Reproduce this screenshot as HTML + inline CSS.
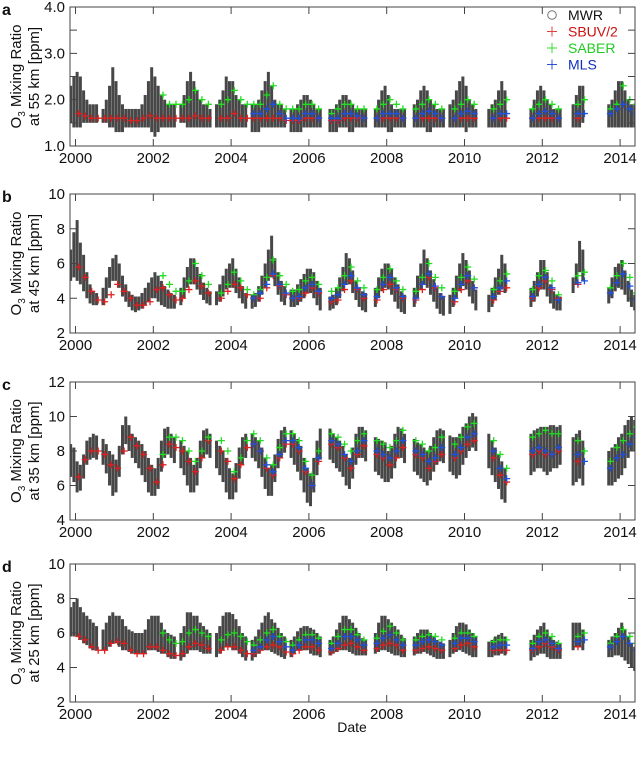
<!DOCTYPE html>
<html><head><meta charset="utf-8"><style>
html,body{margin:0;padding:0;background:#fff;}
svg{display:block;font-family:"Liberation Sans",Arial,sans-serif;}
</style></head><body>
<svg id="chart" width="638" height="760" viewBox="0 0 638 760"></svg>
<script>
// ---------- DATA ----------
// MWR monthly ranges: t = 1999.875 + i/12, i = 0..174
const N = null;
const mwrHiA=[2.3,2.5,
2.6,2.5,2.2,2.0,1.9,1.9,1.9,N,1.8,2.0,2.3,2.7,
2.4,2.1,1.9,1.8,1.8,1.8,1.8,1.8,1.9,2.1,2.4,2.7,
2.5,2.3,2.1,2.0,1.9,1.9,1.9,N,1.9,2.1,2.4,2.6,
2.4,2.2,2.0,1.9,1.9,1.8,N,1.9,2.0,2.2,2.5,2.4,
2.4,2.1,2.0,1.9,1.9,N,1.9,1.9,2.0,2.2,2.4,2.6,
2.3,2.0,1.9,1.9,1.8,N,1.8,1.8,1.9,2.0,2.1,2.1,
2.0,1.9,1.8,1.8,N,N,1.8,1.8,1.9,2.0,2.1,2.1,
2.0,1.9,1.8,1.8,1.8,1.8,N,N,1.8,2.0,2.2,2.3,
2.1,1.9,1.8,1.8,1.8,1.8,N,N,1.9,2.0,2.2,2.3,
2.2,2.0,1.9,1.8,1.8,1.8,N,1.9,2.0,2.2,2.4,2.5,
2.3,2.0,1.9,1.8,N,N,N,1.8,1.9,2.0,2.2,2.4,
2.2,N,N,N,N,N,N,N,1.8,2.0,2.2,2.3,
2.2,2.0,1.9,1.8,1.8,1.8,N,N,N,1.9,2.1,2.3,
2.3,N,N,N,N,N,N,N,1.9,2.0,2.2,2.4,
2.4,2.2,2.0,1.9,1.9];
const mwrLoA=[1.5,1.4,
1.4,1.4,1.5,1.5,1.5,1.5,1.5,N,1.5,1.5,1.4,1.4,
1.3,1.3,1.3,1.4,1.4,1.4,1.4,1.4,1.4,1.4,1.4,1.3,
1.2,1.3,1.4,1.4,1.4,1.4,1.4,N,1.5,1.5,1.4,1.4,
1.4,1.4,1.4,1.4,1.4,1.4,N,1.4,1.4,1.4,1.4,1.4,
1.4,1.4,1.4,1.4,1.4,N,1.3,1.3,1.3,1.4,1.4,1.4,
1.4,1.4,1.4,1.4,1.4,N,1.3,1.3,1.3,1.3,1.4,1.4,
1.4,1.4,1.4,1.4,N,N,1.3,1.3,1.3,1.4,1.4,1.4,
1.3,1.3,1.4,1.4,1.4,1.4,N,N,1.4,1.4,1.4,1.4,
1.3,1.3,1.4,1.4,1.4,1.4,N,N,1.4,1.4,1.4,1.4,
1.3,1.3,1.4,1.4,1.4,1.4,N,1.4,1.4,1.4,1.4,1.4,
1.3,1.4,1.4,1.4,N,N,N,1.4,1.4,1.4,1.4,1.4,
1.4,N,N,N,N,N,N,N,1.4,1.4,1.4,1.4,
1.4,1.4,1.4,1.4,1.4,1.4,N,N,N,1.4,1.4,1.4,
1.5,N,N,N,N,N,N,N,1.4,1.4,1.4,1.4,
1.4,1.4,1.4,1.4,1.4];
const mwrHiB=[6.8,7.8,
8.5,7.2,6.5,5.5,4.8,4.4,4.3,N,4.6,5.2,5.8,6.3,
6.5,6.0,5.3,4.8,4.4,4.2,4.1,4.1,4.3,4.6,4.9,5.2,
5.5,5.3,5.0,4.7,4.5,4.3,4.2,N,4.6,5.2,5.8,6.3,
6.3,5.8,5.4,4.9,4.6,4.4,N,4.4,4.8,5.3,5.7,6.0,
6.3,5.7,5.2,4.7,4.3,N,4.2,4.3,4.7,5.3,6.0,6.8,
7.6,6.3,5.5,5.0,4.7,N,4.5,4.5,4.8,5.1,5.4,5.7,
5.7,5.5,5.0,4.6,N,N,4.1,4.2,4.6,5.2,5.8,6.6,
6.3,5.6,5.0,4.6,4.4,4.3,N,N,4.6,5.2,5.7,6.0,
6.0,5.7,5.2,4.8,4.4,4.2,N,N,4.6,5.3,6.0,6.8,
6.3,5.6,5.1,4.6,4.3,4.1,N,4.2,4.6,5.3,6.0,6.6,
6.2,5.6,5.0,4.5,N,N,N,4.2,4.6,5.2,5.7,6.5,
6.0,N,N,N,N,N,N,N,4.6,5.0,5.5,6.2,
6.2,5.5,4.8,4.4,4.2,4.1,N,N,N,5.2,6.0,7.3,
6.8,N,N,N,N,N,N,N,4.6,5.2,5.8,6.0,
6.2,5.6,5.0,4.5,4.2];
const mwrLoB=[5.0,5.2,
5.0,4.8,4.4,4.0,3.7,3.6,3.6,N,3.6,4.0,4.6,5.0,
5.0,4.6,4.1,3.8,3.5,3.3,3.2,3.3,3.4,3.6,3.8,4.0,
4.0,3.8,3.6,3.5,3.4,3.4,3.4,N,3.6,4.0,4.6,4.8,
4.8,4.5,4.2,3.9,3.7,3.6,N,3.6,3.8,4.1,4.5,4.6,
4.6,4.3,4.0,3.7,3.4,N,3.4,3.5,3.8,4.2,4.6,5.0,
5.2,4.7,4.2,3.8,3.6,N,3.5,3.5,3.6,3.8,4.0,4.3,
4.3,4.0,3.6,3.3,N,N,3.3,3.4,3.6,4.0,4.4,4.8,
4.8,4.3,3.9,3.5,3.3,3.2,N,N,3.5,4.0,4.4,4.6,
4.5,4.2,3.8,3.4,3.2,3.1,N,N,3.5,4.0,4.5,4.8,
4.6,4.2,3.8,3.4,3.1,3.0,N,3.1,3.5,4.0,4.4,4.7,
4.5,4.1,3.7,3.3,N,N,N,3.2,3.5,3.9,4.2,4.5,
4.3,N,N,N,N,N,N,N,3.5,3.8,4.1,4.5,
4.5,4.1,3.7,3.4,3.3,3.3,N,N,N,4.3,4.8,5.5,
5.0,N,N,N,N,N,N,N,3.7,4.0,4.4,4.6,
4.5,4.2,3.8,3.5,3.3];
const mwrHiC=[8.4,8.2,
7.4,7.2,7.8,8.6,8.8,9.0,8.9,N,8.7,8.4,8.0,7.8,
7.5,8.3,9.5,10.0,9.5,9.0,8.8,8.6,8.4,8.0,7.6,7.2,
7.0,7.6,8.6,9.3,9.4,9.0,8.8,N,8.6,8.3,8.0,7.6,
7.2,7.6,8.6,9.2,9.3,9.0,N,8.6,8.3,8.0,7.6,7.0,
6.7,7.3,8.2,8.8,9.0,N,9.0,8.8,8.6,8.2,7.6,7.0,
7.2,7.8,8.7,9.2,9.4,N,9.2,9.0,8.7,8.3,7.6,7.0,
6.7,7.6,8.6,9.3,N,N,9.3,9.0,8.8,8.6,8.3,7.8,
7.6,8.2,9.0,9.4,9.4,9.2,N,N,8.8,8.7,8.6,8.5,
8.0,8.3,9.0,9.4,9.3,9.0,N,N,8.7,8.5,8.4,8.2,
8.0,8.3,8.8,9.2,9.3,9.2,N,8.9,8.8,8.8,9.0,9.4,
9.6,10.0,10.2,10.0,N,N,N,9.0,8.6,8.2,7.8,7.4,
7.0,N,N,N,N,N,N,N,9.0,9.2,9.3,9.4,
9.4,9.4,9.5,9.5,9.4,9.5,N,N,N,8.8,9.0,9.2,
8.6,N,N,N,N,N,N,N,8.0,8.2,8.4,8.8,
9.0,9.5,9.8,10.0,9.8];
const mwrLoC=[6.5,6.2,
5.6,5.7,6.4,7.2,7.5,7.6,7.5,N,7.2,6.7,6.0,5.4,
5.6,6.5,7.8,8.4,8.0,7.6,7.3,7.0,6.6,6.2,5.6,5.4,
5.4,5.8,6.8,7.6,7.8,7.6,7.3,N,7.0,6.6,6.0,5.6,
5.6,6.0,7.0,7.6,7.8,7.6,N,7.0,6.6,6.2,5.6,5.2,
5.2,5.6,6.4,7.2,7.6,N,7.6,7.4,7.0,6.5,5.8,5.4,
5.4,6.2,7.0,7.6,7.9,N,7.6,7.2,6.8,6.3,5.6,5.0,
4.8,5.6,6.6,7.5,N,N,7.5,7.3,7.0,6.8,6.5,6.0,
5.8,6.4,7.2,7.6,7.6,7.4,N,N,6.8,6.6,6.4,6.2,
6.2,6.4,7.0,7.6,7.6,7.3,N,N,6.8,6.6,6.4,6.2,
6.0,6.3,6.8,7.2,7.4,7.3,N,6.8,6.6,6.4,6.6,7.2,
7.6,8.0,8.2,8.0,N,N,N,7.0,6.6,6.2,5.8,5.2,
5.0,N,N,N,N,N,N,N,6.6,6.8,7.0,7.0,
6.8,6.6,6.8,7.0,7.0,7.2,N,N,N,6.0,6.2,6.4,
6.0,N,N,N,N,N,N,N,6.0,6.0,6.2,6.4,
6.6,7.0,7.6,8.0,8.0];
const mwrHiD=[7.5,7.8,
8.0,7.5,7.2,7.0,6.8,6.6,6.4,N,6.2,6.6,7.0,7.2,
7.0,7.0,6.8,6.4,6.2,6.1,6.0,6.0,6.0,6.2,6.8,7.0,
7.0,7.0,6.6,6.2,6.0,5.9,5.8,N,6.0,6.4,7.2,7.2,
7.0,7.0,6.6,6.4,6.2,6.0,N,6.0,6.4,7.0,7.2,7.2,
7.1,6.8,6.4,6.0,5.8,N,5.6,5.8,6.2,6.6,7.0,7.2,
6.8,6.6,6.3,6.0,5.8,N,5.6,5.8,6.1,6.3,6.4,6.4,
6.3,6.2,6.0,5.8,N,N,5.6,5.8,6.2,6.6,7.0,7.0,
6.8,6.6,6.3,6.0,5.7,5.6,N,N,6.0,6.6,7.0,7.0,
6.8,6.6,6.4,6.2,5.9,5.7,N,N,5.8,6.0,6.2,6.2,
6.2,6.0,5.8,5.6,5.5,5.4,N,5.6,6.0,6.4,6.6,6.6,
6.5,6.2,6.0,5.8,N,N,N,5.5,5.6,5.8,5.9,6.0,
5.8,N,N,N,N,N,N,N,5.6,5.9,6.2,6.4,
6.6,6.2,5.8,5.6,5.5,5.4,N,N,N,6.6,6.6,6.6,
6.2,N,N,N,N,N,N,N,5.6,5.8,6.0,6.3,
6.6,6.2,5.8,5.4,5.2];
const mwrLoD=[5.8,5.8,
5.8,5.6,5.4,5.3,5.1,5.0,5.0,N,5.0,5.0,5.2,5.4,
5.4,5.2,5.0,5.0,4.9,4.8,4.8,4.8,4.8,4.8,5.0,5.0,
5.0,4.9,4.8,4.8,4.6,4.5,4.5,N,4.4,4.6,4.8,5.0,
5.0,5.0,4.9,4.8,4.8,4.8,N,4.6,4.8,5.0,5.2,5.2,
5.0,5.0,4.8,4.6,4.4,N,4.4,4.6,4.8,5.0,5.0,5.0,
4.9,4.8,4.7,4.6,4.5,N,4.6,4.8,5.0,5.0,5.0,5.0,
4.8,4.7,4.7,4.6,N,N,4.7,4.8,4.9,5.0,5.0,5.0,
4.9,4.8,4.7,4.7,4.7,4.7,N,N,4.8,4.9,5.0,5.0,
4.9,4.8,4.7,4.7,4.6,4.6,N,N,4.7,4.8,4.8,4.9,
4.8,4.7,4.6,4.5,4.5,4.5,N,4.6,4.8,4.9,5.0,4.9,
4.8,4.7,4.6,4.6,N,N,N,4.6,4.6,4.7,4.7,4.8,
4.7,N,N,N,N,N,N,N,4.4,4.6,4.7,4.8,
4.8,4.6,4.5,4.5,4.5,4.5,N,N,N,5.0,5.2,5.2,
5.0,N,N,N,N,N,N,N,4.6,4.6,4.7,4.7,
4.6,4.4,4.2,4.0,3.8];

// Satellites bimonthly: t = 2000 + 1/12 + k/6 (Jan,Mar,May,Jul,Sep,Nov), k = 0..86
const sbuvA=[1.7,1.65,1.6,1.6,1.6,1.6, 1.6,1.6,1.55,1.55,1.6,1.65, 1.6,1.6,1.6,1.6,1.6,1.6, 1.65,1.6,1.6,N,1.6,1.6, 1.7,1.6,1.6,1.6,1.6,1.6, 1.6,1.6,1.55,1.55,1.55,1.6, 1.6,1.6,N,1.55,1.55,1.6, 1.6,1.6,1.6,N,1.6,1.6, 1.6,1.6,1.6,N,1.6,1.6, 1.6,1.6,1.6,N,1.6,1.6, 1.6,1.6,N,N,1.6,1.6, 1.6,N,N,N,1.6,1.6, 1.6,1.6,1.6,N,N,1.6, N,N,N,N,N,N, N,N,N];
const saberA=[N,N,N,N,N,N, N,N,N,N,N,N, N,2.1,1.9,1.9,1.9,2.0, 2.2,2.0,1.9,N,1.9,2.0, 2.2,2.0,1.9,1.9,1.9,2.1, 2.3,1.9,1.8,1.8,1.8,1.9, 1.9,1.8,N,1.7,1.8,1.9, 1.9,1.8,1.8,N,1.8,1.9, 2.0,1.9,1.8,N,1.8,1.9, 2.0,1.9,1.8,N,1.8,1.9, 2.0,1.9,N,N,1.8,1.9, 2.0,N,N,N,1.8,1.9, 2.0,1.9,1.8,N,N,1.9, 2.0,N,N,N,1.8,1.9, 2.3,2.0,1.9];
const mlsA=[N,N,N,N,N,N, N,N,N,N,N,N, N,N,N,N,N,N, N,N,N,N,N,N, N,N,N,1.7,1.7,1.8, 1.9,1.7,1.6,1.6,1.6,1.7, 1.7,1.6,N,1.6,1.6,1.7, 1.7,1.65,1.6,N,1.6,1.7, 1.7,1.7,1.6,N,1.6,1.7, 1.75,1.7,1.6,N,1.6,1.7, 1.75,1.7,N,N,1.6,1.7, 1.7,N,N,N,1.6,1.7, 1.75,1.7,1.6,N,N,1.7, 1.7,N,N,N,1.7,1.8, 1.9,1.8,1.7];
const sbuvB=[5.8,5.2,4.4,3.9,3.8,4.2, 4.8,4.4,4.0,3.6,3.6,3.8, 4.5,4.6,4.2,3.9,4.0,4.5, 5.0,4.7,4.3,N,4.0,4.4, 4.8,4.6,4.2,4.0,4.0,4.6, 5.3,4.7,4.2,4.0,4.0,4.3, 4.6,4.3,N,3.8,3.9,4.5, 5.0,4.5,4.0,N,3.9,4.5, 4.8,4.5,4.0,N,3.9,4.5, 5.2,4.6,4.1,N,3.8,4.5, 5.0,4.6,N,N,3.9,4.4, 4.6,N,N,N,4.0,4.6, 5.0,4.5,4.0,N,N,4.8, N,N,N,N,N,N, N,N,N];
const saberB=[N,N,N,N,N,N, N,N,N,N,N,N, N,5.3,4.8,4.4,4.4,5.0, 6.0,5.3,4.8,N,4.3,4.8, 5.5,5.0,4.5,4.2,4.5,5.2, 6.2,5.3,4.8,4.4,4.5,5.0, 5.2,4.8,N,4.4,4.6,5.3, 5.8,5.0,4.6,N,4.5,5.2, 5.7,5.0,4.5,N,4.4,5.2, 6.0,5.2,4.6,N,4.4,5.2, 5.8,5.1,N,N,4.5,5.0, 5.4,N,N,N,4.5,5.3, 5.6,5.0,4.2,N,N,5.3, 5.5,N,N,N,4.6,5.3, 6.0,5.2,4.3];
const mlsB=[N,N,N,N,N,N, N,N,N,N,N,N, N,N,N,N,N,N, N,N,N,N,N,N, N,N,N,4.0,4.3,4.8, 5.4,4.8,4.3,4.0,4.1,4.6, 4.8,4.4,N,4.0,4.2,4.8, 5.3,4.6,4.2,N,4.1,4.8, 5.2,4.6,4.1,N,4.0,4.8, 5.4,4.7,4.1,N,4.0,4.8, 5.3,4.6,N,N,4.1,4.6, 5.0,N,N,N,4.1,4.8, 5.2,4.6,3.9,N,N,4.9, 5.0,N,N,N,4.3,4.9, 5.4,4.7,3.9];
const sbuvC=[6.5,7.5,8.0,8.0,7.8,7.2, 7.0,8.0,8.8,8.3,7.8,7.0, 6.2,7.2,8.4,8.2,8.0,7.4, 6.8,7.6,8.6,N,8.0,7.4, 6.4,7.2,8.2,8.4,8.0,7.0, 6.6,7.6,8.4,8.4,8.0,6.8, 6.0,7.4,N,8.4,8.2,7.6, 7.0,7.8,8.3,N,7.8,7.6, 7.2,7.6,8.2,N,7.8,7.6, 7.0,7.4,7.8,N,7.6,8.0, 8.4,8.6,N,N,7.6,6.6, 6.2,N,N,N,7.8,8.0, 7.8,7.8,8.0,N,N,7.4, N,N,N,N,N,N, N,N,N];
const saberC=[N,N,N,N,N,N, N,N,N,N,N,N, N,7.8,8.8,8.8,8.6,8.0, 7.4,8.0,8.8,N,8.6,8.0, 6.8,7.6,8.6,9.0,8.6,7.6, 7.2,8.2,9.0,9.0,8.6,7.4, 6.6,8.0,N,9.0,8.8,8.4, 8.0,8.6,9.0,N,8.6,8.4, 8.2,8.6,9.2,N,8.6,8.4, 8.0,8.2,8.8,N,8.4,8.8, 9.4,9.6,N,N,8.6,7.8, 7.0,N,N,N,8.8,9.0, 9.2,9.0,9.0,N,N,8.6, 8.0,N,N,N,7.4,8.2, 8.6,9.0,9.4];
const mlsC=[N,N,N,N,N,N, N,N,N,N,N,N, N,N,N,N,N,N, N,N,N,N,N,N, N,N,N,8.4,8.0,7.2, 6.8,7.8,8.6,8.6,8.2,7.0, 6.0,7.6,N,8.6,8.4,7.8, 7.4,8.0,8.6,N,8.0,7.8, 7.6,8.0,8.6,N,8.0,7.8, 7.4,7.6,8.2,N,7.8,8.2, 8.8,9.0,N,N,8.0,7.0, 6.4,N,N,N,8.0,8.2, 8.0,7.8,8.2,N,N,7.8, 7.4,N,N,N,7.0,7.6, 7.8,8.4,8.8];
const sbuvD=[5.8,5.6,5.2,5.0,5.0,5.4, 5.5,5.4,5.0,4.8,4.8,5.2, 5.2,5.0,4.8,4.7,4.8,5.2, 5.4,5.3,5.1,N,5.0,5.2, 5.2,5.0,4.8,4.8,5.0,5.2, 5.3,5.2,4.9,4.8,5.0,5.2, 5.2,5.0,N,4.9,5.1,5.3, 5.4,5.2,5.0,N,5.1,5.3, 5.4,5.3,5.0,N,5.0,5.1, 5.2,5.1,5.0,N,5.1,5.3, 5.4,5.2,N,N,5.0,5.0, 5.0,N,N,N,5.0,5.2, 5.4,5.2,5.0,N,N,5.2, N,N,N,N,N,N, N,N,N];
const saberD=[N,N,N,N,N,N, N,N,N,N,N,N, N,6.0,5.6,5.4,5.5,6.0, 6.2,6.0,5.8,N,5.6,5.9, 6.0,5.8,5.5,5.3,5.6,6.0, 6.2,5.8,5.5,5.3,5.6,5.9, 5.9,5.7,N,5.4,5.8,6.2, 6.2,5.9,5.6,N,5.7,6.1, 6.4,6.0,5.6,N,5.6,5.8, 5.9,5.8,5.6,N,5.7,6.0, 6.0,5.8,N,N,5.5,5.6, 5.6,N,N,N,5.4,5.8, 6.0,5.8,5.4,N,N,5.8, 6.0,N,N,N,5.4,5.8, 6.2,5.8,5.4];
const mlsD=[N,N,N,N,N,N, N,N,N,N,N,N, N,N,N,N,N,N, N,N,N,N,N,N, N,N,N,5.0,5.2,5.6, 5.8,5.5,5.2,5.0,5.3,5.6, 5.6,5.4,N,5.1,5.4,5.8, 5.8,5.6,5.3,N,5.4,5.7, 5.9,5.6,5.3,N,5.3,5.5, 5.6,5.5,5.3,N,5.4,5.7, 5.7,5.5,N,N,5.2,5.3, 5.3,N,N,N,5.1,5.5, 5.6,5.4,5.1,N,N,5.5, 5.6,N,N,N,5.2,5.5, 5.8,5.4,5.0];

const yearTicks=[2000,2002,2004,2006,2008,2010,2012,2014];
const ticksA=[1.0,2.0,3.0,4.0], labelsA=["1.0","2.0","3.0","4.0"];
const minorA=[1.5,2.5,3.5];
const ticksB=[2,4,6,8,10], ticksC=[4,6,8,10,12], ticksD=[2,4,6,8,10];

// ---------- LAYOUT ----------
const svg=document.getElementById('chart');
const NS='http://www.w3.org/2000/svg';
const X0=70, X1=635;
const xs=t=>75.5+(t-2000)*38.9;
function mk(tag,attrs,parent){const e=document.createElementNS(NS,tag);for(const k in attrs)e.setAttribute(k,attrs[k]);(parent||svg).appendChild(e);return e;}

const panels=[
 {id:'a',top:7,bot:146,min:1,max:4,ticks:ticksA,labels:labelsA,minor:minorA,alt:'55',hi:mwrHiA,lo:mwrLoA,s:sbuvA,g:saberA,m:mlsA},
 {id:'b',top:194,bot:333,min:2,max:10,ticks:ticksB,labels:ticksB.map(String),minor:[],alt:'45',hi:mwrHiB,lo:mwrLoB,s:sbuvB,g:saberB,m:mlsB},
 {id:'c',top:382,bot:520,min:4,max:12,ticks:ticksC,labels:ticksC.map(String),minor:[],alt:'35',hi:mwrHiC,lo:mwrLoC,s:sbuvC,g:saberC,m:mlsC},
 {id:'d',top:564,bot:702,min:2,max:10,ticks:ticksD,labels:ticksD.map(String),minor:[],alt:'25',hi:mwrHiD,lo:mwrLoD,s:sbuvD,g:saberD,m:mlsD}
];

panels.forEach(p=>{
  const ys=v=>p.bot-(v-p.min)/(p.max-p.min)*(p.bot-p.top);
  const g=mk('g',{});
  
  
  const clip=mk('clipPath',{id:'clip'+p.id},g);
  mk('rect',{x:X0,y:p.top,width:X1-X0,height:p.bot-p.top},clip);
  const plot=mk('g',{'clip-path':'url(#clip'+p.id+')'},g);
  const mw=mk('g',{fill:'#333','fill-opacity':0.9},plot);
  
  
  p.hi.forEach((h,i)=>{
    const l=p.lo[i]; if(h==null||l==null) return;
    const t=1999.875+i/12;
    const r=mk('rect',{x:xs(t)-1.5,y:ys(h),width:3.0,height:Math.max(1,ys(l)-ys(h))},mw);
    
    
  });
  [[p.s,'#e02020','sbuv'],[p.g,'#22dd22','saber'],[p.m,'#2050e0','mls']].forEach(([arr,col,nm])=>{
    const sg=mk('g',{stroke:col,'stroke-width':1.3},plot);
    
    
    arr.forEach((v,k)=>{
      if(v==null) return;
      const cx=xs(2000+1/12+k/6), cy=ys(v);
      const c=mk('path',{d:`M${cx-3.5},${cy}h7M${cx},${cy-3.5}v7`},sg);
      
      
    });
  });
  const fr=mk('rect',{x:X0,y:p.top,width:X1-X0,height:p.bot-p.top,fill:'none',stroke:'#444','stroke-width':1},g);
  
  
  yearTicks.forEach(yr=>{
    const x=xs(yr);
    mk('path',{d:`M${x},${p.bot}v-7M${x},${p.top}v7`,stroke:'#444','stroke-width':1},g);
    const tl=mk('text',{x:x,y:p.bot+17,'text-anchor':'middle','font-size':15,fill:'#111'},g);
    tl.textContent=yr;
    
    
  });
  p.ticks.forEach((v,j)=>{
    const y=ys(v);
    mk('path',{d:`M${X0},${y}h7M${X1},${y}h-7`,stroke:'#444','stroke-width':1},g);
    const tl=mk('text',{x:X0-5,y:y+5,'text-anchor':'end','font-size':15,fill:'#111'},g);
    tl.textContent=p.labels[j];
    
    
  });
  p.minor.forEach(v=>{
    const y=ys(v);
    mk('path',{d:`M${X0},${y}h7M${X1},${y}h-7`,stroke:'#444','stroke-width':1},g);
  });
  const pl=mk('text',{x:2,y:p.top+8,'font-size':16,'font-weight':'bold',fill:'#111'},g);
  pl.textContent=p.id;
  
  
  const cy=(p.top+p.bot)/2;
  const yt=mk('text',{transform:`translate(21,${cy}) rotate(-90)`,'text-anchor':'middle','font-size':15,fill:'#111'},g);
  yt.innerHTML='O<tspan font-size="10" dy="4">3</tspan><tspan dy="-4"> Mixing Ratio</tspan>';
  
  
  const yt2=mk('text',{transform:`translate(39,${cy}) rotate(-90)`,'text-anchor':'middle','font-size':15,fill:'#111'},g);
  yt2.textContent='at '+p.alt+' km [ppm]';
  
  
});

const xt=mk('text',{x:352,y:732,'text-anchor':'middle','font-size':14,fill:'#111'});
xt.textContent='Date';



const lg=mk('g',{});


[['MWR','#111','#777','o'],['SBUV/2','#cc1010','#e04040','+'],['SABER','#20cc20','#30dd30','+'],['MLS','#1030c0','#3050d0','+']].forEach((e,i)=>{
  const y=15+i*16.5;
  const it=mk('g',{},lg);
  
  
  if(e[3]==='o') mk('circle',{cx:552,cy:y,r:4.3,fill:'none',stroke:e[2],'stroke-width':1},it);
  else mk('path',{d:`M${547},${y}h10M${552},${y-5}v10`,stroke:e[2],'stroke-width':1},it);
  const t=mk('text',{x:568,y:y+5,'font-size':14,fill:e[1]},it);
  t.textContent=e[0];
});
</script>
</body></html>
